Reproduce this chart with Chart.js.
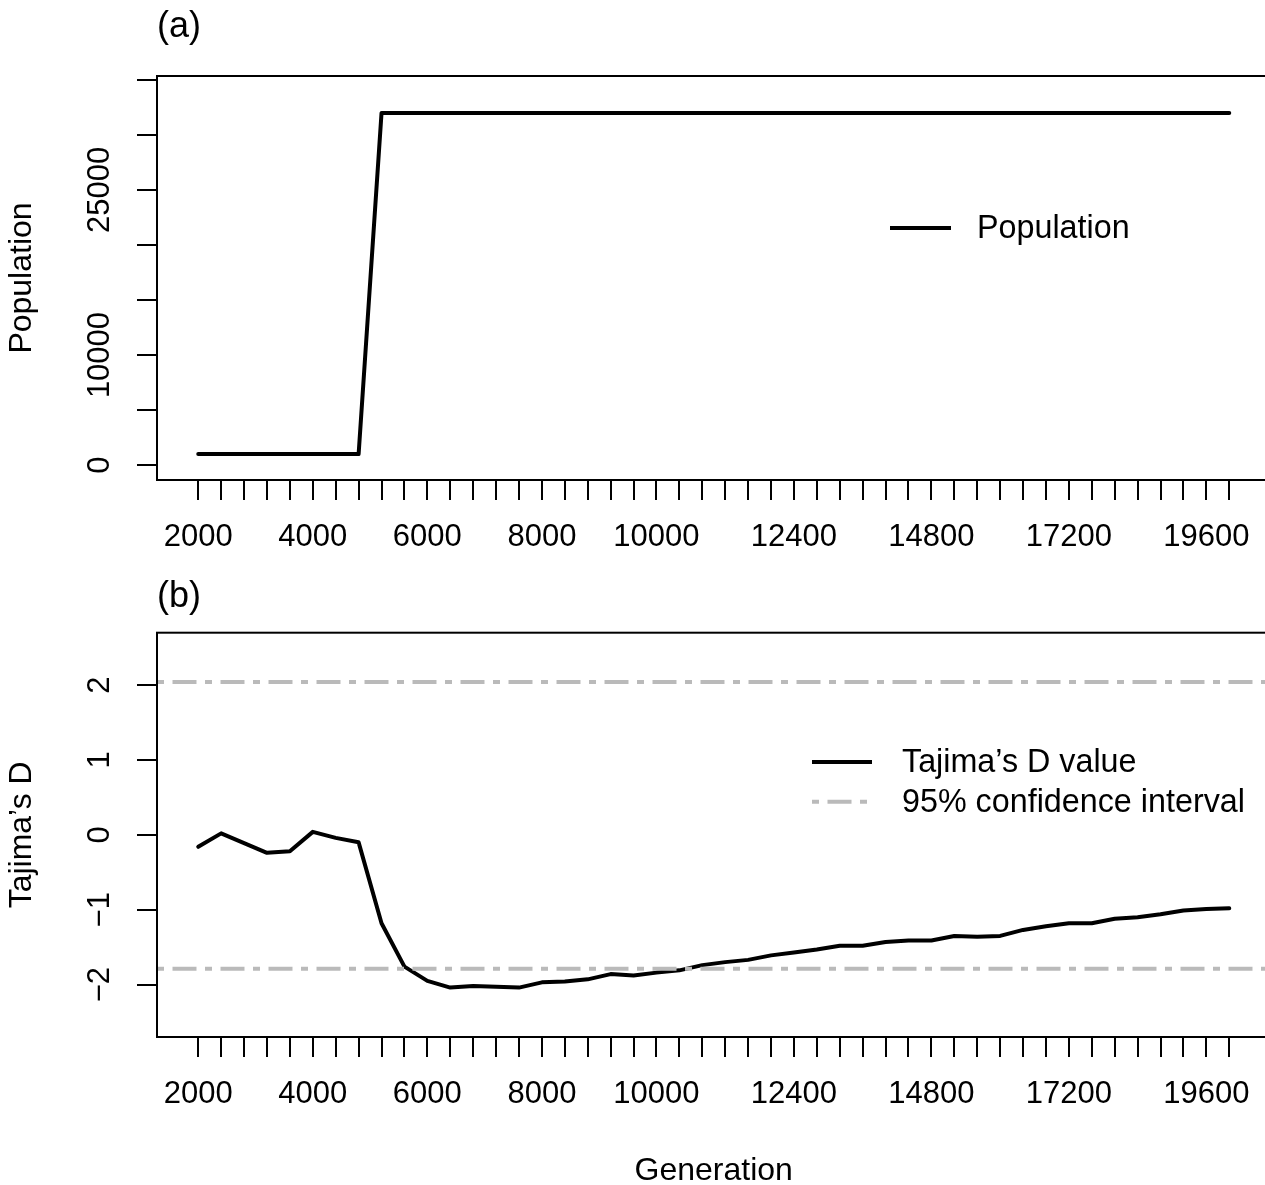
<!DOCTYPE html>
<html>
<head>
<meta charset="utf-8">
<script src="https://cdn.jsdelivr.net/npm/chart.js@4.4.1/dist/chart.umd.min.js"></script>
<style>
html, body { margin: 0; padding: 0; background: #fff; overflow: hidden; }
#wrap { position: relative; width: 1265px; height: 1185px; overflow: hidden; background: #fff; }
#c1 { position: absolute; left: 0; top: 0; }
#c2 { position: absolute; left: 0; top: 570px; }
</style>
</head>
<body>
<div id="wrap">
  <canvas id="c1" width="1280" height="570" style="width:1280px;height:570px"></canvas>
  <canvas id="c2" width="1280" height="630" style="width:1280px;height:630px"></canvas>
</div>
<script>
// ---------------- data ----------------
const generations = [2000, 2400, 2800, 3200, 3600, 4000, 4400, 4800, 5200, 5600,
  6000, 6400, 6800, 7200, 7600, 8000, 8400, 8800, 9200, 9600,
  10000, 10400, 10800, 11200, 11600, 12000, 12400, 12800, 13200, 13600,
  14000, 14400, 14800, 15200, 15600, 16000, 16400, 16800, 17200, 17600,
  18000, 18400, 18800, 19200, 19600, 20000];

const population = [1000, 1000, 1000, 1000, 1000, 1000, 1000, 1000, 32000, 32000,
  32000, 32000, 32000, 32000, 32000, 32000, 32000, 32000, 32000, 32000,
  32000, 32000, 32000, 32000, 32000, 32000, 32000, 32000, 32000, 32000,
  32000, 32000, 32000, 32000, 32000, 32000, 32000, 32000, 32000, 32000,
  32000, 32000, 32000, 32000, 32000, 32000];

const tajimaD = [-0.16, 0.02, -0.11, -0.24, -0.22, 0.04, -0.04, -0.10, -1.18, -1.76,
  -1.95, -2.04, -2.02, -2.03, -2.04, -1.97, -1.96, -1.93, -1.86, -1.88,
  -1.84, -1.81, -1.74, -1.70, -1.67, -1.61, -1.57, -1.53, -1.48, -1.48,
  -1.43, -1.41, -1.41, -1.35, -1.36, -1.35, -1.27, -1.22, -1.18, -1.18,
  -1.12, -1.10, -1.06, -1.01, -0.99, -0.98];

const ciUpper = 2.04;
const ciLower = -1.79;

const popTicks = [0, 5000, 10000, 15000, 20000, 25000, 30000, 35000];
const popTickLabels = [0, 10000, 25000];
const dTicks = [-2, -1, 0, 1, 2];
const genTickLabels = [2000, 4000, 6000, 8000, 10000, 12400, 14800, 17200, 19600];

// ---------------- styling ----------------
const FONT = "'Liberation Sans', Arial, Helvetica, sans-serif";
Chart.defaults.font.family = FONT;
Chart.defaults.color = '#000';

const X_MIN = 1280, X_MAX = 20720;
const TICK_FONT = 31;

const framePlugin = {
  id: 'frame',
  afterDraw(chart) {
    const { ctx, chartArea: a } = chart;
    ctx.save();
    ctx.strokeStyle = '#000';
    ctx.lineWidth = 2;
    ctx.strokeRect(a.left, a.top, a.right - a.left, a.bottom - a.top);
    ctx.restore();
  }
};

const legendPlugin = {
  id: 'rlegend',
  afterDraw(chart, args, opts) {
    const ctx = chart.ctx;
    ctx.save();
    opts.items.forEach(it => {
      const ds = chart.data.datasets[it.dataset];
      ctx.beginPath();
      ctx.setLineDash(ds.borderDash || []);
      ctx.lineDashOffset = 0;
      ctx.strokeStyle = ds.borderColor;
      ctx.lineWidth = ds.borderWidth;
      ctx.lineCap = 'butt';
      ctx.moveTo(opts.x0, it.y);
      ctx.lineTo(opts.x1, it.y);
      ctx.stroke();
      ctx.setLineDash([]);
      ctx.font = '32.3px ' + FONT;
      ctx.fillStyle = '#000';
      ctx.textBaseline = 'middle';
      ctx.textAlign = 'left';
      ctx.fillText(ds.label, opts.tx, it.y + 1);
    });
    ctx.restore();
  }
};

function xScale(height, titleOpts) {
  return {
    type: 'linear',
    position: 'bottom',
    min: X_MIN, max: X_MAX,
    bounds: 'data',
    afterBuildTicks: s => { s.ticks = generations.map(v => ({ value: v })); },
    afterFit: s => { s.height = height; },
    ticks: {
      autoSkip: false, minRotation: 0, maxRotation: 0,
      padding: 18.7, font: { size: TICK_FONT }, color: '#000',
      callback: v => genTickLabels.includes(v) ? String(v) : ''
    },
    grid: { display: true, drawOnChartArea: false, drawTicks: true, tickLength: 20, color: '#000', lineWidth: 2 },
    border: { display: false },
    title: titleOpts || { display: false }
  };
}

function yScale(min, max, tickVals, labelFn, pad, titleText) {
  return {
    type: 'linear',
    position: 'left',
    min: min, max: max,
    bounds: 'data',
    afterBuildTicks: s => { s.ticks = tickVals.map(v => ({ value: v })); },
    afterFit: s => { s.width = 157; },
    ticks: {
      autoSkip: false, minRotation: 90, maxRotation: 90, crossAlign: 'center',
      padding: pad, font: { size: TICK_FONT }, color: '#000',
      callback: labelFn
    },
    grid: { display: true, drawOnChartArea: false, drawTicks: true, tickLength: 20, color: '#000', lineWidth: 2 },
    border: { display: false },
    title: { display: true, text: titleText, font: { size: 32 }, color: '#000', padding: { top: 3.2, bottom: 0 } }
  };
}

// ---------------- panel (a) ----------------
new Chart(document.getElementById('c1'), {
  type: 'line',
  data: {
    datasets: [{
      label: 'Population',
      data: population.map((y, i) => ({ x: generations[i], y: y })),
      borderColor: '#000', borderWidth: 4, pointRadius: 0,
      borderJoinStyle: 'round', borderCapStyle: 'round', tension: 0, fill: false
    }]
  },
  options: {
    responsive: false, animation: false, devicePixelRatio: 1,
    layout: { padding: { left: 0, right: 9.5, top: 0, bottom: 0 } },
    scales: {
      x: xScale(90),
      y: yScale(-1360, 35360, popTicks, v => popTickLabels.includes(v) ? String(v) : '', -6.1, 'Population')
    },
    plugins: {
      legend: { display: false },
      tooltip: { enabled: false },
      title: {
        display: true, text: '(a)', align: 'start', fullSize: false, position: 'top',
        font: { size: 36, weight: 'normal' }, color: '#000',
        padding: { top: 5.5, bottom: 27.3 }
      },
      rlegend: { x0: 890, x1: 951, tx: 977, items: [{ dataset: 0, y: 228 }] }
    }
  },
  plugins: [framePlugin, legendPlugin]
});

// ---------------- panel (b) ----------------
const ciStyle = {
  label: '95% confidence interval',
  borderColor: '#bababa', borderWidth: 4, pointRadius: 0,
  borderDash: [7, 8.5, 24, 8.5], borderCapStyle: 'butt', tension: 0, fill: false, order: 0
};

new Chart(document.getElementById('c2'), {
  type: 'line',
  data: {
    datasets: [
      {
        label: 'Tajima\u2019s D value',
        data: tajimaD.map((y, i) => ({ x: generations[i], y: y })),
        borderColor: '#000', borderWidth: 4, pointRadius: 0,
        borderJoinStyle: 'round', borderCapStyle: 'round', tension: 0, fill: false, order: 1
      },
      Object.assign({}, ciStyle, { data: [{ x: X_MIN, y: ciUpper }, { x: X_MAX, y: ciUpper }] }),
      Object.assign({}, ciStyle, { data: [{ x: X_MIN, y: ciLower }, { x: X_MAX, y: ciLower }] })
    ]
  },
  options: {
    responsive: false, animation: false, devicePixelRatio: 1,
    layout: { padding: { left: 0, right: 9.5, top: 0, bottom: 0 } },
    scales: {
      x: xScale(163, { display: true, text: 'Generation', font: { size: 32 }, color: '#000', padding: { top: 0, bottom: 9.5 } }),
      y: yScale(-2.7, 2.7, dTicks, v => String(v).replace('-', '\u2212'), 19.3, 'Tajima\u2019s D')
    },
    plugins: {
      legend: { display: false },
      tooltip: { enabled: false },
      title: {
        display: true, text: '(b)', align: 'start', fullSize: false, position: 'top',
        font: { size: 36, weight: 'normal' }, color: '#000',
        padding: { top: 5.4, bottom: 14.1 }
      },
      rlegend: { x0: 812, x1: 872, tx: 902, items: [{ dataset: 0, y: 192 }, { dataset: 1, y: 231.7 }] }
    }
  },
  plugins: [framePlugin, legendPlugin]
});
</script>
</body>
</html>
